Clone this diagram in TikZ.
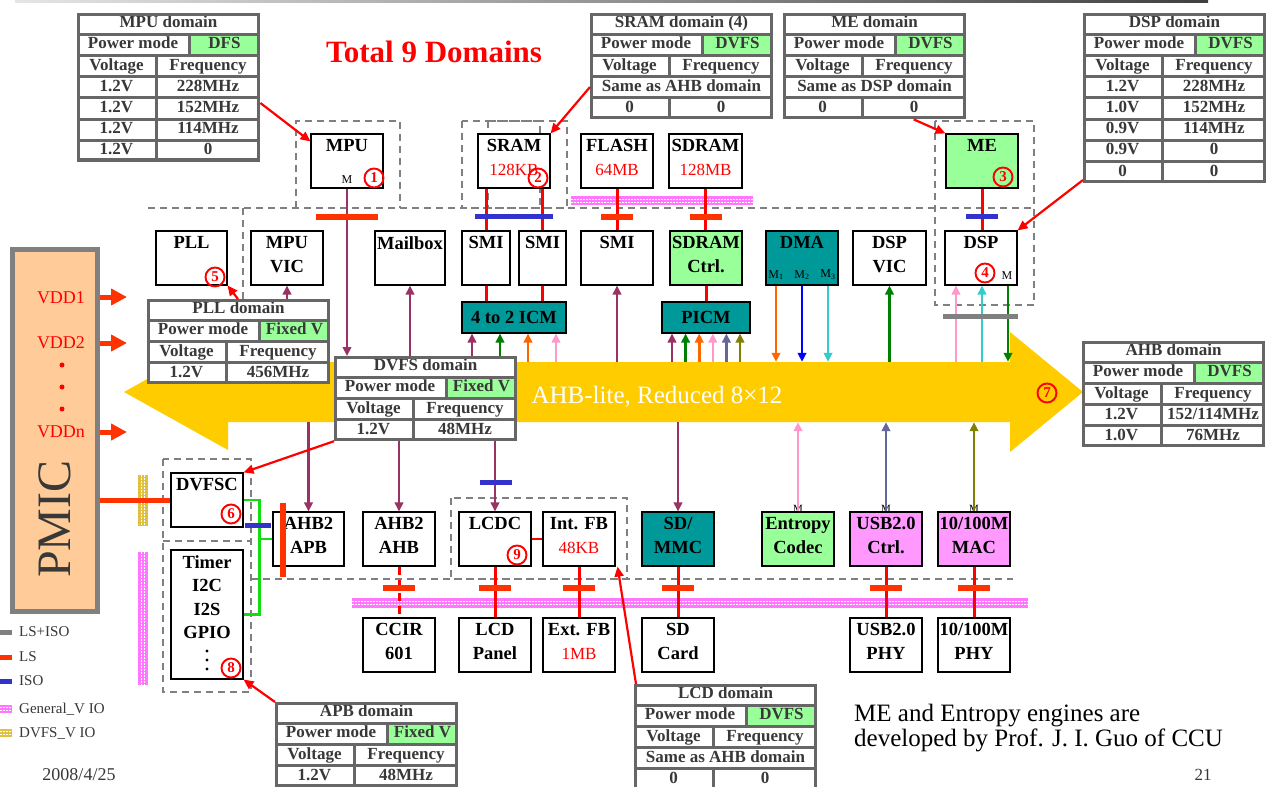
\documentclass[tikz,border=0pt]{standalone}
\usepackage{fontspec}
\setmainfont{Liberation Serif}
\usetikzlibrary{arrows.meta,calc}
\definecolor{busy}{HTML}{FFCC00}
\definecolor{teal2}{HTML}{009999}
\definecolor{lgreen}{HTML}{99FF99}
\definecolor{lmag}{HTML}{FF99FF}
\definecolor{peach}{HTML}{FFCC99}
\definecolor{dgray}{HTML}{808080}
\definecolor{tgray}{HTML}{666666}
\definecolor{ttext}{HTML}{383838}
\definecolor{cpurple}{HTML}{993366}
\definecolor{cgreen}{HTML}{008000}
\definecolor{corange}{HTML}{FF6600}
\definecolor{cpink}{HTML}{FF99CC}
\definecolor{cslate}{HTML}{666699}
\definecolor{colive}{HTML}{808000}
\definecolor{cblue}{HTML}{0000FF}
\definecolor{ccyan}{HTML}{33CCCC}
\definecolor{lsred}{HTML}{FF3300}
\definecolor{isob}{HTML}{3333CC}
\definecolor{bgreen}{HTML}{11DD11}
\definecolor{iopink}{HTML}{FF77FF}
\definecolor{ioyel}{HTML}{E0C040}
\newcounter{cellc}
\newcommand\trh{21.2}
\newcommand\dcell[5]{\stepcounter{cellc}\node[tcell,fill=#4,minimum width={#3-#2-3},minimum height={\trh-3}] (cell\arabic{cellc}) at ({(#2+#3)/2},{(#1+0.5)*\trh}) {#5};}
\newcommand\drow[3]{\dcell{#1}{0}{79}{white}{#2}\dcell{#1}{79}{183}{white}{#3}}
\newcommand\dspan[2]{\dcell{#1}{0}{183}{white}{#2}}
\newcommand\dtab[7]{\begin{scope}[shift={(#2,#3)}]
 \node[fill=tgray,inner sep=0,minimum width=183pt,minimum height={#4*\trh},anchor=north west] (#1) at (0,0) {};
 \dcell{0}{0}{183}{white}{#5}
 \dcell{1}{0}{112}{white}{Power mode}
 \dcell{1}{112}{183}{lgreen}{#6}
 \dcell{2}{0}{79}{white}{Voltage}
 \dcell{2}{79}{183}{white}{Frequency}
 #7
 \draw[tgray,line width=3pt] (1.5,1.5) rectangle (181.5,{#4*\trh-1.5});
 \end{scope}}
\newcommand\bx[7]{%
 \node[box,#6,minimum width={(#4)-(#2)},minimum height={(#5)-(#3)}] (#1) at ({((#2)+(#4))/2},{((#3)+(#5))/2}) {};
 \node[btxt,anchor=north] (#1-t) at ([yshift=-6pt]#1.north) {#7};}
\newcommand\iobarh[5]{\fill[#5] (#1,#2) rectangle (#3,#4);
 \draw[white,line width=0.8pt,dash pattern=on 1.5pt off 1.5pt] (#1,{#2+(#4-#2)/3}) -- (#3,{#2+(#4-#2)/3});
 \draw[white,line width=0.8pt,dash pattern=on 1.5pt off 1.5pt] (#1,{#2+2*(#4-#2)/3}) -- (#3,{#2+2*(#4-#2)/3});}
\newcommand\iobarv[5]{\fill[#5] (#1,#2) rectangle (#3,#4);
 \draw[white,line width=0.8pt,dash pattern=on 1.5pt off 1.5pt] ({#1+(#3-#1)/3},#2) -- ({#1+(#3-#1)/3},#4);
 \draw[white,line width=0.8pt,dash pattern=on 1.5pt off 1.5pt] ({#1+2*(#3-#1)/3},#2) -- ({#1+2*(#3-#1)/3},#4);}
\newcommand\rd[1]{{\color{red}\mdseries\fontsize{17}{23}\selectfont #1}}
\begin{document}
\begin{tikzpicture}[x=1pt,y=-1pt,
 box/.style={draw=black,line width=1.1pt,fill=white,inner sep=0,rectangle},
 btxt/.style={font=\bfseries\fontsize{18.5}{23.5}\selectfont,align=center,inner sep=0,text=black},
 conn/.style={line width=2.6pt,-{Triangle[length=9pt,width=8.5pt]}},
 redc/.style={draw=red,line width=3pt},
 lsbar/.style={draw=lsred,line width=6pt},
 isobar/.style={draw=isob,line width=5pt},
 gdash/.style={draw=dgray,line width=1.6pt,dash pattern=on 7pt off 5pt},
 annot/.style={draw=red,line width=2.2pt,-{Triangle[length=10pt,width=9pt]}},
 circ/.style={circle,draw=red,line width=1.9pt,text=red,font=\bfseries\fontsize{15}{15}\selectfont,minimum size=19pt,inner sep=0},
 tcell/.style={rectangle,inner sep=0,font=\bfseries\fontsize{17}{18}\selectfont,text=ttext,text height=11.5pt,text depth=3.5pt},
 mtxt/.style={font=\fontsize{12}{12}\selectfont,inner sep=0},
 legtxt/.style={font=\fontsize{15}{15}\selectfont,text=ttext,anchor=west,inner sep=0}]
\useasboundingbox (0,0) rectangle (1269,787);
\fill[white] (0,0) rectangle (1269,787);
\shade[left color=black!10,right color=black!75] (15,0) rectangle (1208,2.5);
% dashed domain outlines
\draw[gdash] (148,208) -- (1034,208);
\draw[gdash] (243,208) -- (243,299);
\draw[gdash] (296,208) -- (296,121) -- (400,121) -- (400,208);
\draw[gdash] (462,121) rectangle (540,208);
\draw[gdash] (488,121) rectangle (567,208);
\draw[gdash] (935,121) rectangle (1034,305);
\draw[gdash] (163,459) rectangle (251,692);
\draw[gdash] (163,541) -- (251,541);
\draw[gdash] (251,579) -- (1013,579);
\draw[gdash] (451,498) rectangle (627,579);
% IO bars
\iobarh{571}{196}{753}{205}{iopink}
\iobarh{352}{598}{1028}{608}{iopink}
\iobarv{138}{552}{148}{685}{iopink}
\iobarv{138}{475}{148}{526}{ioyel}
% bus
\fill[busy] (124,392) -- (228,334) -- (228,362) -- (1010,362) -- (1010,332) -- (1083,392) -- (1010,452) -- (1010,422) -- (228,422) -- (228,450) -- cycle;
\node[inner sep=0,minimum width=782pt,minimum height=60pt] (bus) at (619,392) {};
\node[font=\fontsize{25}{25}\selectfont,text=white,inner sep=0] (bustxt) at (657,397) {AHB-lite, Reduced 8×12};
% PMIC
\node[fill=peach,draw=dgray,line width=5pt,minimum width=85pt,minimum height=362pt,inner sep=0] (pmic) at (54.5,430) {};
\node[rotate=90,font=\fontsize{48}{48}\selectfont,text=ttext,inner sep=0] (pmict) at (55,519) {PMIC};
\node[text=red,font=\fontsize{18}{18}\selectfont,inner sep=0] (vdd1) at (61,298) {VDD1};
\node[text=red,font=\fontsize{18}{18}\selectfont,inner sep=0] (vdd2) at (61,343) {VDD2};
\node[text=red,font=\fontsize{18}{18}\selectfont,inner sep=0] (vddn) at (61,432) {VDDn};
\fill[red] (62,365) circle (2.5) (62,387) circle (2.5) (62,409) circle (2.5);
\coordinate (v1e) at (127,297);
\coordinate (v2e) at (127,343);
\coordinate (vne) at (127,432);
\foreach \b in {v1e,v2e,vne}
 \draw[lsred,line width=5pt,-{Triangle[length=16pt,width=16pt]}] (pmic.east |- \b) -- (\b);
% top row boxes
\bx{mpu}{311}{134}{383}{188}{}{MPU}
\bx{sram}{478}{134}{550}{188}{}{SRAM\\\rd{128KB}}
\bx{flash}{581}{134}{653}{188}{}{FLASH\\\rd{64MB}}
\bx{sdram}{669}{134}{742}{188}{}{SDRAM\\\rd{128MB}}
\bx{me}{946}{134}{1018}{188}{fill=lgreen}{ME}
% second row
\bx{pll}{156}{231}{227}{285}{}{PLL}
\bx{mpuvic}{251}{231}{323}{285}{}{MPU\\VIC}
\bx{mailbox}{375}{231}{445}{285}{}{Mailbox}
\bx{smia}{462}{231}{510}{285}{}{SMI}
\bx{smib}{519}{231}{566}{285}{}{SMI}
\bx{smic}{581}{231}{653}{285}{}{SMI}
\bx{sdctrl}{670}{231}{742}{285}{fill=lgreen}{SDRAM\\Ctrl.}
\bx{dma}{766}{231}{838}{285}{fill=teal2}{DMA}
\bx{dspvic}{853}{231}{926}{285}{}{DSP\\VIC}
\bx{dsp}{945}{231}{1017}{285}{}{DSP}
\node[box,fill=teal2,minimum width=104pt,minimum height=31pt,font=\bfseries\fontsize{18.5}{18}\selectfont] (icm) at (514,317.5) {4 to 2 ICM};
\node[box,fill=teal2,minimum width=88pt,minimum height=31pt,font=\bfseries\fontsize{18.5}{18}\selectfont] (picm) at (706,317.5) {PICM};
% lower row
\bx{ahbapb}{273}{512}{344}{566}{}{AHB2\\APB}
\bx{ahbahb}{363}{512}{435}{566}{}{AHB2\\AHB}
\bx{lcdc}{459}{512}{531}{566}{}{LCDC}
\bx{intfb}{543}{512}{615}{566}{}{Int. FB\\\rd{48KB}}
\bx{sdmmc}{642}{512}{714}{566}{fill=teal2}{SD/\\MMC}
\bx{entropy}{762}{512}{834}{566}{fill=lgreen}{Entropy\\Codec}
\bx{usb}{850}{512}{922}{566}{fill=lmag}{USB2.0\\Ctrl.}
\bx{mac}{938}{512}{1010}{566}{fill=lmag}{10/100M\\MAC}
% bottom row
\bx{ccir}{363}{618}{435}{672}{}{CCIR\\601}
\bx{lcdp}{459}{618}{531}{672}{}{LCD\\Panel}
\bx{extfb}{543}{618}{615}{672}{}{Ext. FB\\\rd{1MB}}
\bx{sdcard}{642}{618}{714}{672}{}{SD\\Card}
\bx{usbphy}{850}{618}{922}{672}{}{USB2.0\\PHY}
\bx{macphy}{938}{618}{1010}{672}{}{10/100M\\PHY}
% left boxes
\bx{dvfsc}{171}{473}{243}{527}{}{DVFSC}
\bx{timer}{171}{550}{243}{679}{}{Timer\\I2C\\I2S\\GPIO}
\fill[black] (207,651) circle (1.6) (207,660) circle (1.6) (207,669) circle (1.6);
% small M labels
\node[mtxt] (mpum) at (347,180) {M};
\node[mtxt] (dspm) at (1007,276) {M};
\node[mtxt] (dmam1) at (776,275) {M\textsubscript{1}};
\node[mtxt] (dmam2) at (802,275) {M\textsubscript{2}};
\node[mtxt] (dmam3) at (828,275) {M\textsubscript{3}};
\node[mtxt,font=\fontsize{11}{11}\selectfont] (entm) at (798,509) {M};
\node[mtxt,font=\fontsize{11}{11}\selectfont] (usbm) at (886,509) {M};
\node[mtxt,font=\fontsize{11}{11}\selectfont] (macm) at (974,509) {M};
% connectors
\draw[conn,cpurple] (mpu.south) -- (mpu.south |- 0,356);
\draw[conn,cpurple] (mpuvic |- bus.north) -- (mpuvic.south);
\draw[conn,cpurple] (mailbox |- bus.north) -- (mailbox.south);
\draw[conn,cpurple] (smic |- bus.north) -- (smic.south);
\foreach \dx/\c in {-42/cpurple,-14/cgreen,14/corange,42/cpink}
 \draw[conn,\c] ([xshift=\dx pt]icm.south |- bus.north) -- ([xshift=\dx pt]icm.south);
\foreach \dx/\c in {-34/cpurple,-20.4/cgreen,-6.8/corange,6.8/cpink,20.4/cslate,34/colive}
 \draw[conn,\c] ([xshift=\dx pt]picm.south |- bus.north) -- ([xshift=\dx pt]picm.south);
\foreach \dx/\c in {-26/corange,0/cblue,26/ccyan}
 \draw[conn,\c] ([xshift=\dx pt]dma.south) -- ([xshift=\dx pt]dma.south |- bus.north);
\draw[conn,cgreen] (dspvic |- bus.north) -- (dspvic.south);
\draw[conn,cpink] ([xshift=-25pt]dsp.south |- bus.north) -- ([xshift=-25pt]dsp.south);
\draw[conn,ccyan] ([xshift=1pt]dsp.south |- bus.north) -- ([xshift=1pt]dsp.south);
\draw[conn,cgreen] ([xshift=27pt]dsp.south) -- ([xshift=27pt]dsp.south |- bus.north);
\draw[conn,cpurple] (ahbapb |- bus.south) -- (ahbapb.north);
\draw[conn,cpurple] (ahbahb |- bus.south) -- (ahbahb.north);
\draw[conn,cpurple] (lcdc |- bus.south) -- (lcdc.north);
\draw[conn,cpurple] (sdmmc |- bus.south) -- (sdmmc.north);
\draw[conn,cpink] (entropy.north) -- (entropy |- bus.south);
\draw[conn,cslate] (usb.north) -- (usb |- bus.south);
\draw[conn,colive] (mac.north) -- (mac |- bus.south);
% red memory links
\draw[redc] (sram.south -| smia) -- (smia.north);
\draw[redc] (sram.south -| smib) -- (smib.north);
\draw[redc] (smia.south) -- (smia.south |- icm.north);
\draw[redc] (smib.south) -- (smib.south |- icm.north);
\draw[redc] (flash.south) -- (smic.north);
\draw[redc] (sdram.south) -- (sdram.south |- sdctrl.north);
\draw[redc] (sdctrl.south) -- (sdctrl.south |- picm.north);
\draw[redc] (me.south) -- (me.south |- dsp.north);
\draw[redc,dash pattern=on 8pt off 5pt] (ahbahb.south) -- (ccir.north);
\draw[redc] (lcdc.south) -- (lcdp.north);
\draw[redc] (intfb.south) -- (extfb.north);
\draw[redc] (sdmmc.south) -- (sdcard.north);
\draw[redc] (usb.south) -- (usbphy.north);
\draw[redc] (mac.south) -- (macphy.north);
\draw[red,line width=2.5pt] (lcdc.east) -- (intfb.west);
% level shifter / isolation bars
\draw[lsbar] ($(mpu.south)+(-31,28)$) -- ++(62,0);
\draw[isobar] ($(sram.south)+(-39,28)$) -- ++(78,0);
\draw[lsbar] ($(flash.south)+(-16,28)$) -- ++(32,0);
\draw[lsbar] ($(sdram.south)+(-16,28)$) -- ++(32,0);
\draw[isobar] ($(me.south)+(-16,28)$) -- ++(32,0);
\draw[dgray,line width=5pt] ($(dsp.south)+(-38,31)$) -- ++(75,0);
\draw[isobar] ($(lcdc.north)+(-15,-29)$) -- ++(32,0);
\foreach \n in {ahbahb,lcdc,intfb,sdmmc,usb,mac}
 \draw[lsbar] ($(\n.south)+(-16,21)$) -- ++(32,0);
% APB side
\draw[lsred,line width=5pt] (pmic.east |- dvfsc.west) -- (dvfsc.west);
\draw[bgreen,line width=2.5pt] (dvfsc.east) -- ++(16,0) |- (timer.east);
\draw[bgreen,line width=2.5pt] ([xshift=16pt]dvfsc.east |- ahbapb.west) -- (ahbapb.west);
\draw[isobar] ($(ahbapb.west)+(-27,-14)$) -- ++(26,0);
\draw[lsbar] ($(ahbapb.north west)+(11,-8)$) -- ++(0,74);
% domain tables
\dtab{mputab}{77}{13}{7}{MPU domain}{DFS}{\drow{3}{1.2V}{228MHz}\drow{4}{1.2V}{152MHz}\drow{5}{1.2V}{114MHz}\drow{6}{1.2V}{0}}
\dtab{sramtab}{590}{13}{5}{SRAM domain (4)}{DVFS}{\dspan{3}{Same as AHB domain}\drow{4}{0}{0}}
\dtab{metab}{783}{13}{5}{ME domain}{DVFS}{\dspan{3}{Same as DSP domain}\drow{4}{0}{0}}
\dtab{dsptab}{1083}{13}{8}{DSP domain}{DVFS}{\drow{3}{1.2V}{228MHz}\drow{4}{1.0V}{152MHz}\drow{5}{0.9V}{114MHz}\drow{6}{0.9V}{0}\drow{7}{0}{0}}
\dtab{plltab}{147}{299}{4}{PLL domain}{Fixed V}{\drow{3}{1.2V}{456MHz}}
\dtab{dvfstab}{334}{356}{4}{DVFS domain}{Fixed V}{\drow{3}{1.2V}{48MHz}}
\dtab{ahbtab}{1082}{341}{5}{AHB domain}{DVFS}{\drow{3}{1.2V}{152/114MHz}\drow{4}{1.0V}{76MHz}}
\dtab{apbtab}{275}{702}{4}{APB domain}{Fixed V}{\drow{3}{1.2V}{48MHz}}
\dtab{lcdtab}{634}{684}{5}{LCD domain}{DVFS}{\dspan{3}{Same as AHB domain}\drow{4}{0}{0}}
% annotation arrows
\draw[annot] ([yshift=-90pt]mputab.north east) -- ([yshift=-8pt]mpu.north west);
\draw[annot] ([yshift=-74pt]sramtab.north west) -- (sram.north east);
\draw[annot] ([xshift=39pt]metab.south) -- (me.north west);
\draw[annot] ([yshift=3pt]dsptab.south west) -- (dsp.north east);
\draw[annot] ([xshift=91pt]plltab.north west) -- (pll.south east);
\draw[annot] (dvfstab.south west) -- (dvfsc.north east);
\draw[annot] (apbtab.north west) -- (timer.south east);
\draw[annot] ([xshift=2pt]lcdtab.north west) -- ([xshift=2pt]intfb.south east);
% circled numbers
\node[circ] (c1) at (374,178) {1};
\node[circ] (c2) at (538,178) {2};
\node[circ] (c3) at (1003,177) {3};
\node[circ] (c4) at (985,273) {4};
\node[circ] (c5) at (215,277) {5};
\node[circ] (c6) at (231,514) {6};
\node[circ] (c7) at (1047,393) {7};
\node[circ] (c8) at (231,668) {8};
\node[circ] (c9) at (517,555) {9};
% texts
\node[text=red,font=\bfseries\fontsize{31}{31}\selectfont,inner sep=0] (title) at (434,52) {Total 9 Domains};
\node[anchor=north west,align=left,inner sep=0,font=\fontsize{25}{25}\selectfont] (note) at (854,704) {ME and Entropy engines are\\developed by Prof. J. I. Guo of CCU};
\node[font=\fontsize{18}{18}\selectfont,text=ttext,inner sep=0] (date) at (79,775) {2008/4/25};
\node[font=\fontsize{17}{17}\selectfont,text=ttext,inner sep=0] (page) at (1203,775) {21};
% legend
\draw[dgray,line width=5pt] (0,632) -- (12,632);
\draw[lsred,line width=5pt] (0,657) -- (12,657);
\draw[isob,line width=5pt] (0,681) -- (12,681);
\iobarh{0}{705}{12}{713}{iopink}
\iobarh{0}{729}{12}{737}{ioyel}
\node[legtxt] (l1) at (19,632) {LS+ISO};
\node[legtxt] (l2) at (19,657) {LS};
\node[legtxt] (l3) at (19,681) {ISO};
\node[legtxt] (l4) at (19,709) {General\_V IO};
\node[legtxt] (l5) at (19,733) {DVFS\_V IO};
\end{tikzpicture}
\end{document}
